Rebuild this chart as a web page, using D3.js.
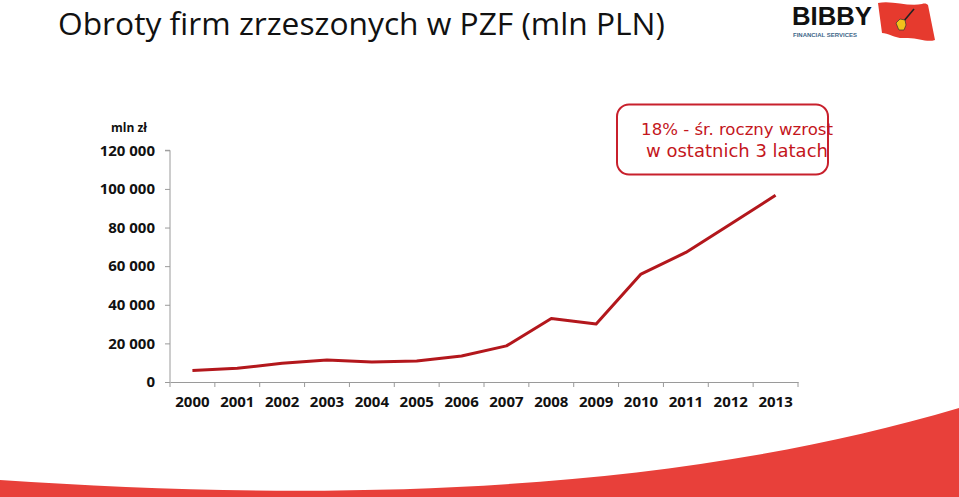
<!DOCTYPE html>
<html><head><meta charset="utf-8">
<script src="https://cdn.jsdelivr.net/npm/d3@7"></script>
<style>
html,body{margin:0;padding:0;background:#fff;}
svg{display:block;}
</style></head>
<body>
<svg id="c" width="959" height="497"></svg>
<script>
const years = ["2000","2001","2002","2003","2004","2005","2006","2007","2008","2009","2010","2011","2012","2013"];
const turnover = [5900, 7100, 9700, 11400, 10400, 10900, 13500, 18700, 32900, 30000, 55900, 67100, 81800, 96700];
const yTicks = [0, 20000, 40000, 60000, 80000, 100000, 120000];
const titleText = "Obroty firm zrzeszonych w PZF (mln PLN)";
const unitText = "mln zł";
const calloutLines = ["18% - śr. roczny wzrost", "w ostatnich 3 latach"];

const svg = d3.select("#c");

// bottom red swoosh
svg.append("path")
  .attr("d", "M0,480 C300,500 650,500 959,408 L959,497 L0,497 Z")
  .attr("fill", "#e8403a");

// title
const title = svg.append("text").attr("x", 58).attr("y", 35)
  .attr("font-family", "'Open Sans', sans-serif").attr("font-weight", 400)
  .attr("font-size", 30).attr("fill", "#111").text(titleText);
{ const w = title.node().getComputedTextLength(); title.attr("font-size", 30 * 607 / w); }

// logo
const logo = svg.append("g");
logo.append("text").attr("x", 792).attr("y", 24.5)
  .attr("font-family", "'Liberation Sans', Arial, sans-serif").attr("font-weight", 900)
  .attr("font-size", 26).attr("fill", "#111").attr("textLength", 80).attr("lengthAdjust", "spacingAndGlyphs")
  .text("BIBBY");
logo.append("text").attr("x", 793).attr("y", 37)
  .attr("font-family", "'Liberation Sans', Arial, sans-serif").attr("font-weight", 700)
  .attr("font-size", 5.5).attr("fill", "#3d6688").attr("textLength", 64).attr("lengthAdjust", "spacingAndGlyphs")
  .text("FINANCIAL SERVICES");
logo.append("path")
  .attr("d", "M878,3 C892,0 908,7 922,4 C925,3 927,4 928,5 L935,40 C926,43 918,37 905,38 C896,39 888,33 882,33 Z")
  .attr("fill", "#e63a2e");
logo.append("line").attr("x1", 903).attr("y1", 22).attr("x2", 914).attr("y2", 9)
  .attr("stroke", "#222").attr("stroke-width", 1.6);
logo.append("path")
  .attr("d", "M898,28 L896,23 L900,19 L905,20 L906,25 L904,30 L899,30 Z")
  .attr("fill", "#f2c21b").attr("stroke", "#333").attr("stroke-width", 0.7);

// scales
const x = d3.scaleBand().domain(years).range([170, 798]).padding(0);
const y = d3.scaleLinear().domain([0, 120000]).range([382, 150.3]);
const fmt = v => d3.format(",")(v).replace(/,/g, " ");
const axisColor = "#9a9a9a";
const labelFont = "'Open Sans', sans-serif";

// y axis
const ya = svg.append("g").attr("transform", "translate(170,0)")
  .call(d3.axisLeft(y).tickValues(yTicks).tickFormat(fmt).tickSize(5).tickPadding(10));
ya.select(".domain").attr("stroke", axisColor).attr("d", `M-5,${y(120000)}H0V${y(0)}`);
ya.selectAll(".tick line").attr("stroke", axisColor);
ya.selectAll(".tick text").attr("font-family", labelFont).attr("font-weight", 700)
  .attr("font-size", 15).attr("fill", "#111");

svg.append("text").attr("x", 129).attr("y", 132).attr("text-anchor", "middle")
  .attr("font-family", labelFont).attr("font-weight", 700).attr("font-size", 12).attr("fill", "#111")
  .text(unitText);

// x axis
const xa = svg.append("g").attr("transform", `translate(0,${y(0)})`)
  .call(d3.axisBottom(x).tickSize(0).tickPadding(14));
xa.select(".domain").attr("stroke", axisColor);
xa.selectAll(".tick text").attr("font-family", labelFont).attr("font-weight", 700)
  .attr("font-size", 15).attr("fill", "#111");
const bounds = years.map(d => x(d)).concat([x(years[years.length - 1]) + x.bandwidth()]);
xa.selectAll("line.bt").data(bounds).join("line").attr("class", "bt")
  .attr("x1", d => d).attr("x2", d => d).attr("y1", 0).attr("y2", 5)
  .attr("stroke", axisColor);

// line
const line = d3.line().x((d, i) => x(years[i]) + x.bandwidth() / 2).y(d => y(d));
svg.append("path").datum(turnover).attr("d", line)
  .attr("fill", "none").attr("stroke", "#b3171c").attr("stroke-width", 3)
  .attr("stroke-linejoin", "round");

// callout
svg.append("rect").attr("x", 617).attr("y", 104.5).attr("width", 211).attr("height", 70)
  .attr("rx", 12).attr("fill", "#fff").attr("stroke", "#c8202c").attr("stroke-width", 2);
const c1 = svg.append("text").attr("x", 737).attr("y", 135).attr("text-anchor", "middle")
  .attr("font-family", "'DejaVu Sans', sans-serif").attr("font-weight", 400)
  .attr("font-size", 18).attr("fill", "#c4161c").text(calloutLines[0]);
{ const w = c1.node().getComputedTextLength(); c1.attr("font-size", 18 * 192 / w); }
const c2 = svg.append("text").attr("x", 737).attr("y", 157).attr("text-anchor", "middle")
  .attr("font-family", "'DejaVu Sans', sans-serif").attr("font-weight", 400)
  .attr("font-size", 18).attr("fill", "#c4161c").text(calloutLines[1]);
{ const w = c2.node().getComputedTextLength(); c2.attr("font-size", 18 * 182 / w); }
</script>
</body></html>
